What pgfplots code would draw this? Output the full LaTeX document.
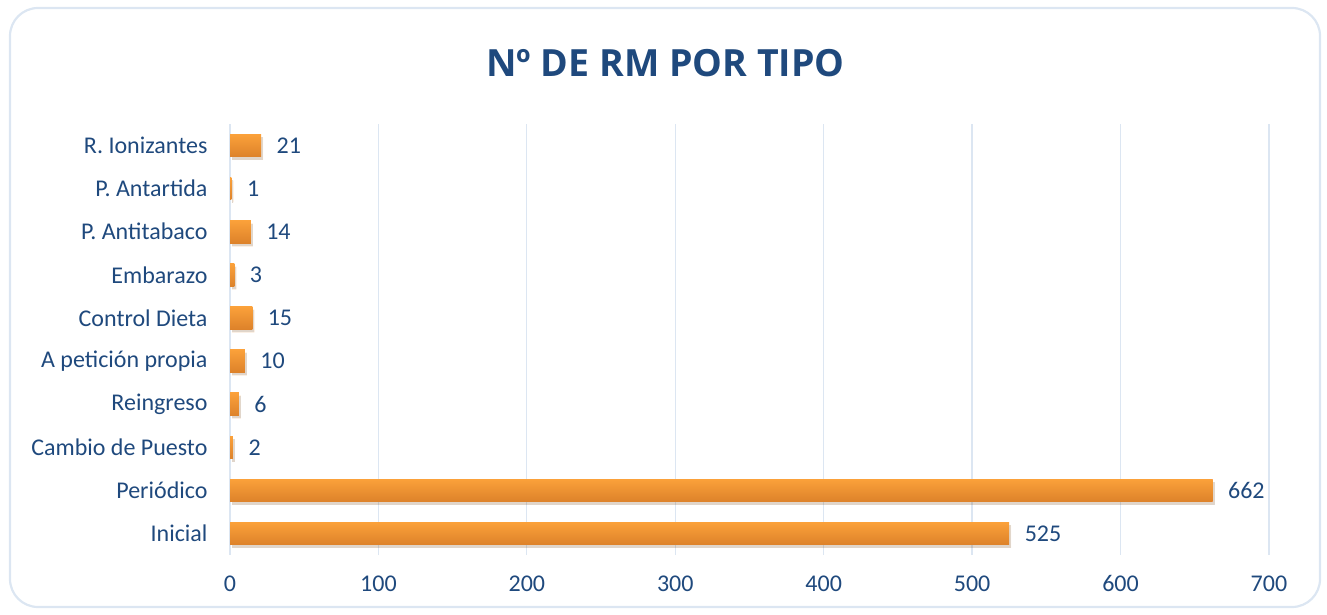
\documentclass[border=0pt]{standalone}
\usepackage{pgfplots}
\pgfplotsset{compat=1.18}
\usepackage{fontspec}
\setmainfont{Carlito}
\newfontfamily\titlefont{Open Sans}
\definecolor{txt}{HTML}{1F497D}
\definecolor{gridc}{HTML}{DCE6F2}
\definecolor{bartop}{HTML}{FBA13A}
\definecolor{barbot}{HTML}{DD822A}
\begin{document}
\begin{tikzpicture}
\path[use as bounding box] (0pt,0pt) rectangle (1327pt,614pt);
\draw[gridc, line width=2.2pt, rounded corners=28pt] (10pt,7pt) rectangle (1320pt,606pt);
\node[text=txt, font=\titlefont\bfseries\fontsize{37.5}{40}\selectfont] at (665.5pt,551pt) {Nº DE RM POR TIPO};
\begin{axis}[
  at={(230pt,59pt)}, anchor=south west,
  width=1039pt, height=431pt, scale only axis,
  xbar, bar width=22.5pt, bar shift=0pt,
  xmin=0, xmax=700, ymin=-0.5, ymax=9.5,
  xtick={0,100,...,700},
  ytick={0,...,9},
  yticklabels={Inicial,Periódico,Cambio de Puesto,Reingreso,A petición propia,Control Dieta,Embarazo,P. Antitabaco,P. Antartida,R. Ionizantes},
  xmajorgrids, ymajorgrids=false,
  major grid style={draw=gridc, line width=1.3pt},
  axis line style={draw=none},
  major tick length=0pt,
  tick label style={text=txt, font=\fontsize{24}{28}\selectfont},
  xticklabel style={yshift=-17pt},
  yticklabel style={xshift=-19pt},
  nodes near coords,
  nodes near coords style={text=txt, font=\fontsize{24}{28}\selectfont, xshift=12pt},
  point meta=x,
  /pgf/number format/assume math mode=true,
  every axis plot/.append style={draw=none, shade, top color=bartop, bottom color=barbot,
    preaction={fill=black, fill opacity=0.12, transform canvas={xshift=2pt, yshift=-3pt}}},
]
\addplot coordinates {(525,0)};
\addplot coordinates {(662,1)};
\addplot coordinates {(2,2)};
\addplot coordinates {(6,3)};
\addplot coordinates {(10,4)};
\addplot coordinates {(15,5)};
\addplot coordinates {(3,6)};
\addplot coordinates {(14,7)};
\addplot coordinates {(1,8)};
\addplot coordinates {(21,9)};
\end{axis}
\end{tikzpicture}
\end{document}
